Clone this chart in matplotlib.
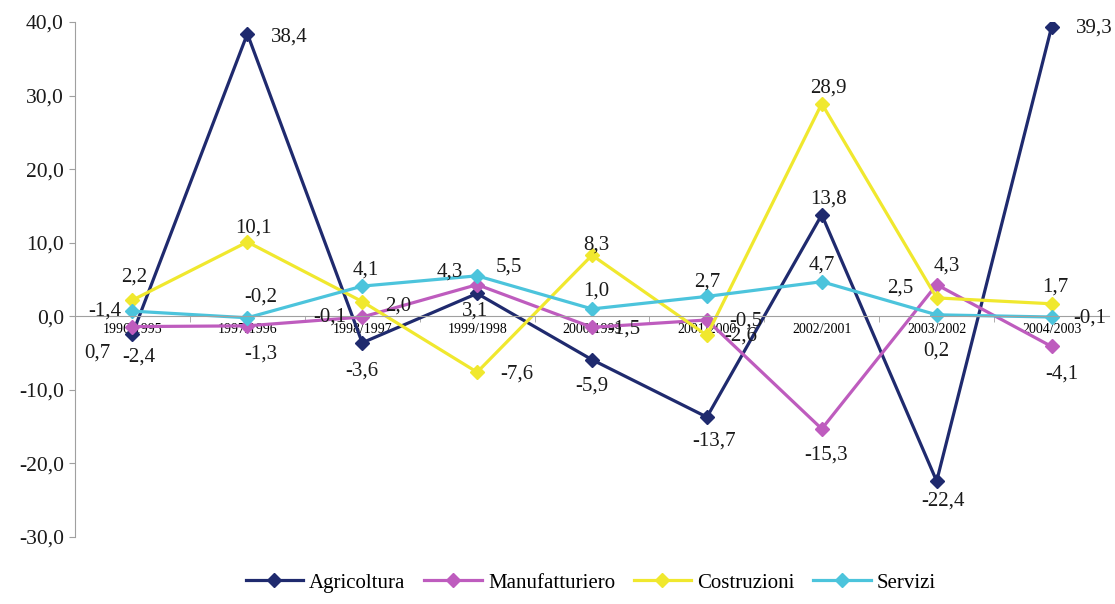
import matplotlib.pyplot as plt
from matplotlib.ticker import FuncFormatter, FixedLocator

periods = ["1996/1995", "1997/1996", "1998/1997", "1999/1998", "2000/1999",
           "2001/2000", "2002/2001", "2003/2002", "2004/2003"]

agricoltura = [-2.4, 38.4, -3.6, 3.1, -5.9, -13.7, 13.8, -22.4, 39.3]
manifatturiero = [-1.4, -1.3, -0.1, 4.3, -1.5, -0.5, -15.3, 4.3, -4.1]
costruzioni = [2.2, 10.1, 2.0, -7.6, 8.3, -2.6, 28.9, 2.5, 1.7]
servizi = [0.7, -0.2, 4.1, 5.5, 1.0, 2.7, 4.7, 0.2, -0.1]

# label offsets in pixels (dx, dy up)
off_agr = [(6, -23), (42, -3), (0, -28), (-2, -18), (0, -26), (7, -24), (7, 16), (6, -20), (43, -1)]
off_man = [(-28, 16), (13, -28), (-32, 0), (-27, 13), (32, -2), (39, -1), (4, -26), (10, 19), (10, -28)]
off_cos = [(2, 23), (6, 14), (36, -4), (40, -2), (4, 10), (34, -1), (7, 16), (-36, 10), (4, 17)]
off_ser = [(-35, -42), (13, 21), (4, 16), (32, 9), (4, 18), (0, 14), (0, 17), (0, -36), (38, -1)]

series = [
    ("Agricoltura", agricoltura, "#1F2A6E", off_agr),
    ("Manufatturiero", manifatturiero, "#BE5CBE", off_man),
    ("Costruzioni", costruzioni, "#F0E82E", off_cos),
    ("Servizi", servizi, "#4CC4DC", off_ser),
]

plt.rcParams["font.family"] = ["Liberation Serif", "DejaVu Serif"]

fig = plt.figure(figsize=(11.15, 6.04), dpi=100)
ax = fig.add_axes([0.0673, 0.1109, 0.9273, 0.8527])

x = list(range(len(periods)))
for name, values, color, offsets in series:
    ax.plot(x, values, color=color, lw=2.3, marker="D", markersize=7,
            label=name)
    for xi, v, (dx, dy) in zip(x, values, offsets):
        ax.annotate(f"{v:.1f}".replace(".", ","), (xi, v), xytext=(dx, dy),
                    textcoords="offset pixels", ha="center", va="center",
                    fontsize=15, color="#1a1a1a")

ax.set_xlim(-0.5, len(periods) - 0.5)
ax.set_ylim(-30, 40)
ax.set_yticks(range(-30, 41, 10))
ax.yaxis.set_major_formatter(FuncFormatter(lambda v, p: f"{v:.1f}".replace(".", ",")))

ax.set_xticks(x)
ax.set_xticklabels(periods, fontsize=11.5, color="#333333")
ax.xaxis.set_minor_locator(FixedLocator([i + 0.5 for i in range(len(periods) - 1)]))
ax.tick_params(axis="x", which="major", length=0, pad=5)
ax.tick_params(axis="x", which="minor", length=4, color="#A0A0A0", direction="out")
ax.tick_params(axis="y", length=4, color="#A0A0A0", labelsize=15.5, pad=4,
               labelcolor="#1a1a1a")

for side in ["top", "right"]:
    ax.spines[side].set_visible(False)
ax.spines["bottom"].set_position(("data", 0))
ax.spines["bottom"].set_color("#A0A0A0")
ax.spines["left"].set_color("#A0A0A0")

fig.legend(loc="center", bbox_to_anchor=(0.530, 0.035), ncol=4, frameon=False,
           fontsize=15, handlelength=2.75, handletextpad=0.3, columnspacing=0.9)

fig.savefig("out.png", dpi=100)
